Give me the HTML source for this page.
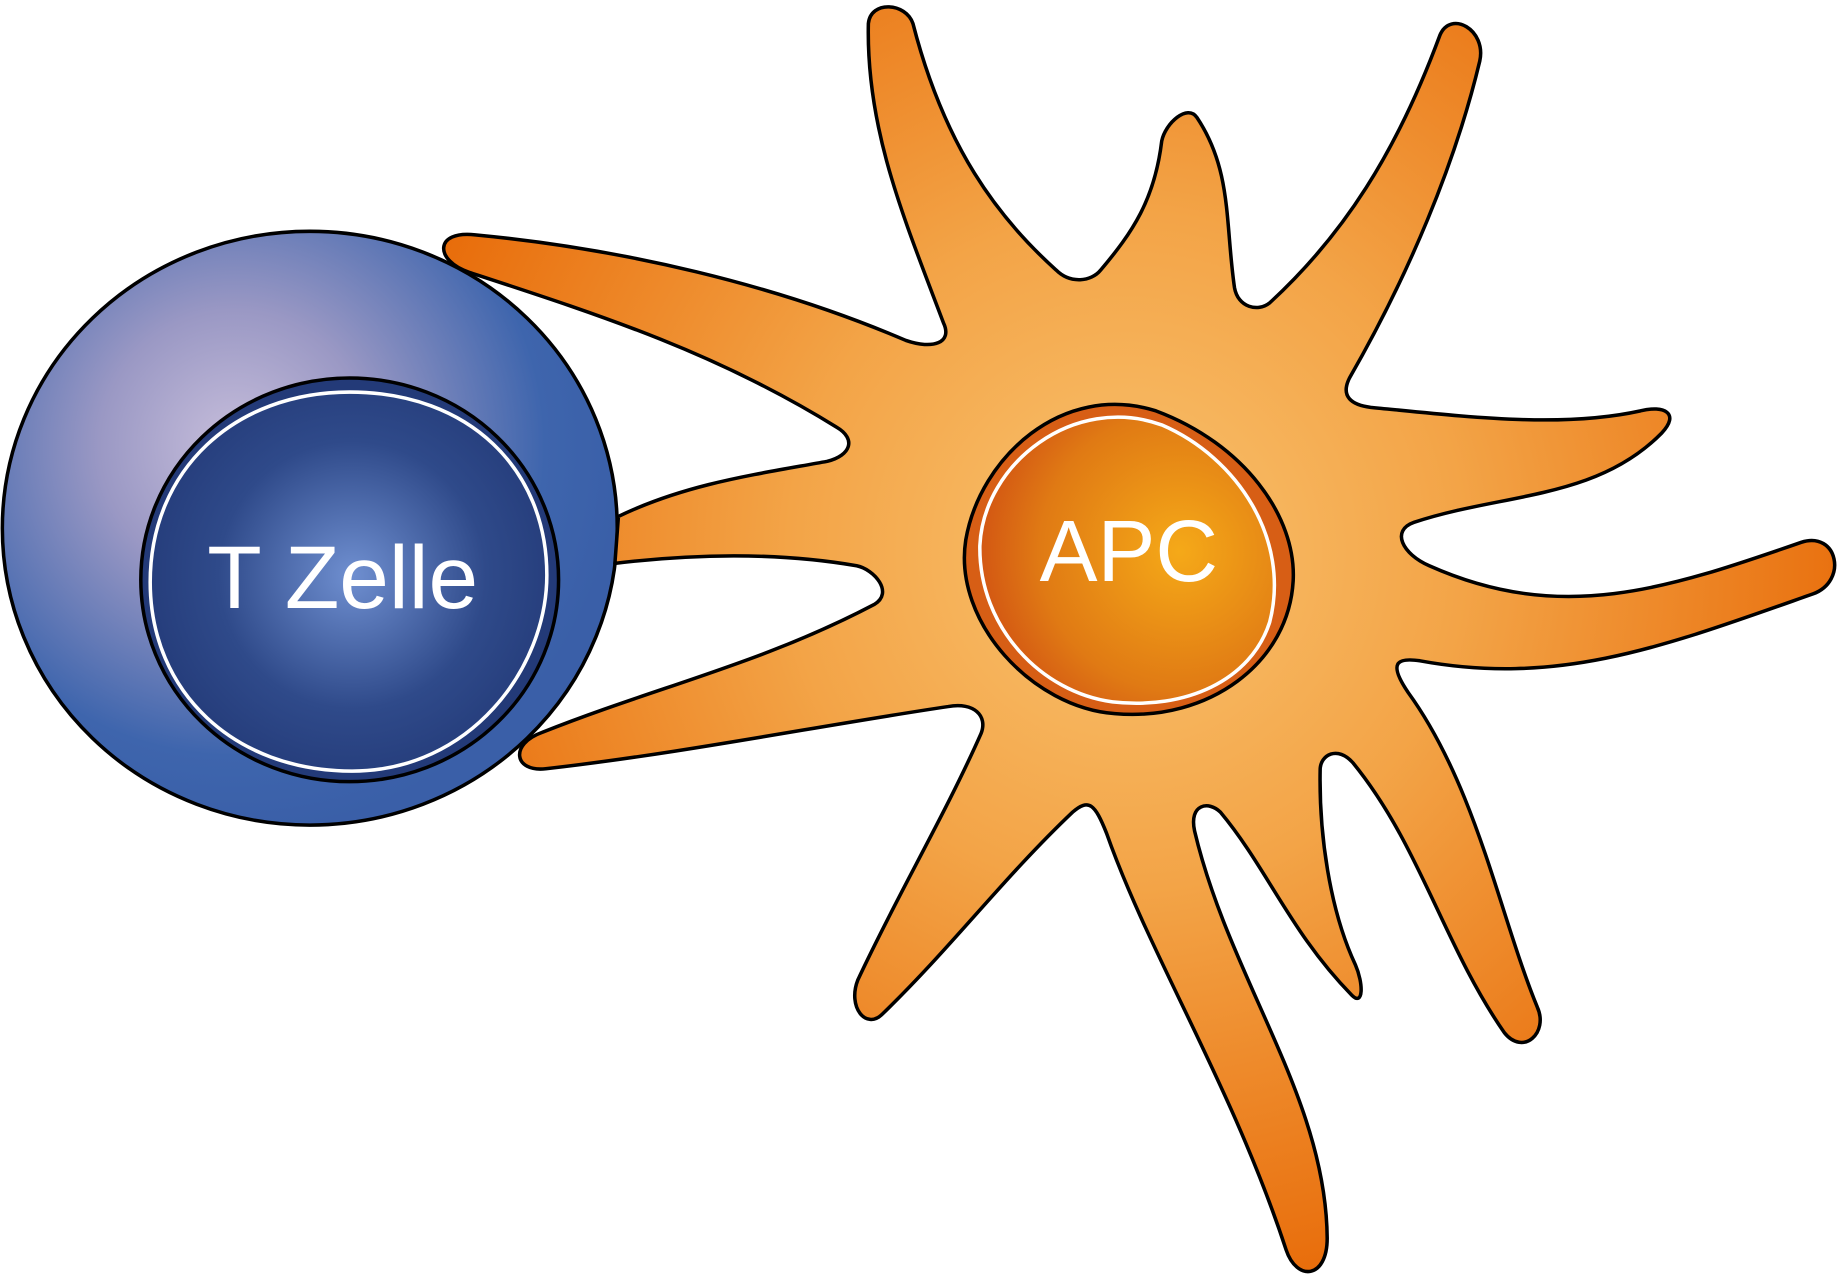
<!DOCTYPE html>
<html><head><meta charset="utf-8"><style>
html,body{margin:0;padding:0;background:#fff;}
svg{display:block;}
</style></head><body>
<svg width="1840" height="1277" viewBox="0 0 1568 1088" xmlns="http://www.w3.org/2000/svg">
<defs>
<radialGradient id="apc" cx="960" cy="470" r="640" gradientUnits="userSpaceOnUse">
<stop offset="0" stop-color="#f9c26e"/><stop offset="0.45" stop-color="#f3a447"/><stop offset="1" stop-color="#e86c0a"/>
</radialGradient>
<radialGradient id="tc" cx="200" cy="380" r="330" gradientUnits="userSpaceOnUse">
<stop offset="0" stop-color="#c7bedb"/><stop offset="0.35" stop-color="#9a98c4"/><stop offset="0.8" stop-color="#3e65ad"/><stop offset="1" stop-color="#3a5fa8"/>
</radialGradient>
<radialGradient id="tn" cx="300" cy="490" r="190" gradientUnits="userSpaceOnUse">
<stop offset="0" stop-color="#6f8fd0"/><stop offset="0.6" stop-color="#2f4a8a"/><stop offset="1" stop-color="#233a78"/>
</radialGradient>
<radialGradient id="nu" cx="1005" cy="470" r="170" gradientUnits="userSpaceOnUse">
<stop offset="0" stop-color="#f5a918"/><stop offset="0.7" stop-color="#e07a14"/><stop offset="1" stop-color="#d35713"/>
</radialGradient>
</defs>
<!-- T cell -->
<ellipse cx="264" cy="450" rx="262" ry="253" fill="url(#tc)" stroke="#000" stroke-width="3"/>
<!-- APC -->
<path fill="url(#apc)" stroke="#000" stroke-width="3" stroke-linejoin="round" d="
M405,200 C530,212 660,242 772,290 C795,298 812,292 804,275
C770,185 738,110 740,20 C742,0 772,2 778,20
C805,125 850,185 900,230 C912,242 930,240 938,230
C965,198 984,170 990,120 C993,105 1012,88 1020,100
C1050,145 1044,190 1052,245 C1055,262 1072,266 1082,258
C1145,200 1190,130 1227,30 C1236,8 1267,25 1261,52
C1240,140 1200,235 1150,322 C1142,338 1152,345 1168,347
C1250,355 1330,365 1398,350 C1418,345 1432,352 1416,369
C1360,426 1280,420 1205,445 C1185,452 1195,472 1218,482
C1330,532 1420,502 1535,462 C1566,452 1575,495 1545,506
C1420,550 1330,585 1210,563 C1190,560 1183,565 1200,590
C1258,670 1278,780 1310,858 C1320,880 1298,900 1282,880
C1230,805 1210,720 1153,650 C1140,635 1125,643 1125,656
C1124,710 1133,775 1155,822 C1162,838 1162,858 1152,848
C1100,795 1080,740 1040,692 C1030,682 1013,685 1018,708
C1048,835 1130,935 1131,1055 C1131,1090 1105,1092 1096,1065
C1050,925 980,815 943,710 C933,685 928,680 914,692
C855,748 810,808 752,864 C738,878 722,858 731,835
C765,762 805,695 836,625 C842,610 830,598 808,602
C700,618 580,642 465,655 C438,658 434,634 462,624
C560,585 650,565 745,515 C762,505 745,485 730,482
C660,470 590,472 524,480 L527,440
C585,412 645,404 705,393 C725,388 730,374 713,364
C610,300 510,268 400,232 C370,222 370,196 405,200 Z"/>
<!-- T nucleus -->
<ellipse cx="298" cy="494" rx="178" ry="172" fill="#233a78" stroke="#000" stroke-width="3"/>
<path d="M298,334 C400,334 466,400 466,490 C466,570 400,657 300,657 C200,657 128,590 128,496 C128,400 200,334 298,334 Z" fill="url(#tn)" stroke="#fff" stroke-width="3"/>
<text x="292" y="518" text-anchor="middle" font-family="'Liberation Sans',sans-serif" font-size="76" fill="#fff">T Zelle</text>
<!-- APC nucleus -->
<path d="M985,350 C1060,378 1105,440 1102,495 C1098,565 1030,615 950,608 C880,603 812,530 823,460 C835,390 905,325 985,350 Z" fill="#d75e15" stroke="#000" stroke-width="3"/>
<path d="M990,362 C1055,390 1100,460 1082,530 C1066,580 1010,605 948,598 C888,590 834,535 835,465 C838,395 915,335 990,362 Z" fill="url(#nu)" stroke="#fff" stroke-width="3"/>
<text x="962" y="495" text-anchor="middle" font-family="'Liberation Sans',sans-serif" font-size="74" fill="#fff">APC</text>
</svg>
</body></html>
